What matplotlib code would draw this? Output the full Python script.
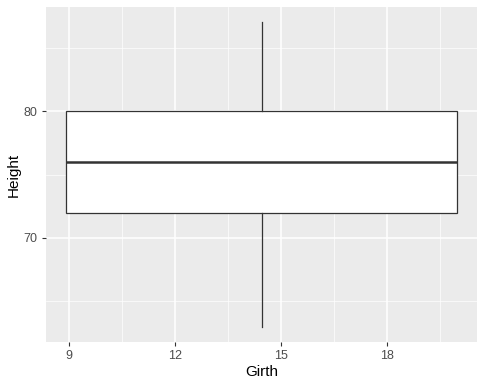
import matplotlib
matplotlib.use('Agg')
import matplotlib.pyplot as plt
from matplotlib.ticker import MultipleLocator

plt.rcParams['font.family'] = ['Liberation Sans', 'DejaVu Sans']

# trees data summary: Girth range and Height five-number summary
girth_range = [8.3, 20.6]
height_stats = {'whislo': 63, 'q1': 72, 'med': 76, 'q3': 80, 'whishi': 87}
x_ticks = [9, 12, 15, 18]
y_ticks = [70, 80]

fig = plt.figure(figsize=(4.85, 3.88), dpi=100)
ax = fig.add_axes([46 / 485, 1 - 342 / 388, (477 - 46) / 485, (342 - 7) / 388])
ax.set_facecolor('#EBEBEB')

center = (girth_range[0] + girth_range[1]) / 2
width = 0.9 * (girth_range[1] - girth_range[0])
stats = [dict(height_stats, fliers=[])]
ax.bxp(stats, positions=[center], widths=width, showcaps=False, patch_artist=True,
       manage_ticks=False,
       boxprops=dict(facecolor='white', edgecolor='#333333', linewidth=0.9),
       whiskerprops=dict(color='#333333', linewidth=0.9),
       medianprops=dict(color='#333333', linewidth=1.8), zorder=3)

xlo, xhi = center - width / 2, center + width / 2
xpad = 0.05 * (xhi - xlo)
ypad = 0.05 * (height_stats['whishi'] - height_stats['whislo'])
ax.set_xlim(xlo - xpad, xhi + xpad)
ax.set_ylim(height_stats['whislo'] - ypad, height_stats['whishi'] + ypad)

ax.set_xticks(x_ticks)
ax.set_yticks(y_ticks)
ax.xaxis.set_minor_locator(MultipleLocator(1.5))
ax.yaxis.set_minor_locator(MultipleLocator(5))
ax.grid(True, which='major', color='white', linewidth=1.1, zorder=0)
ax.grid(True, which='minor', color='white', linewidth=0.5, zorder=0)
ax.set_axisbelow(True)
for s in ax.spines.values():
    s.set_visible(False)
ax.tick_params(which='major', length=3, color='#333333', labelsize=9, labelcolor='#4D4D4D', pad=3)
ax.tick_params(which='minor', length=0)

ax.set_xlabel('Girth', fontsize=11, labelpad=2)
ax.set_ylabel('Height', fontsize=11, labelpad=2)

fig.savefig('out.png', dpi=100)
